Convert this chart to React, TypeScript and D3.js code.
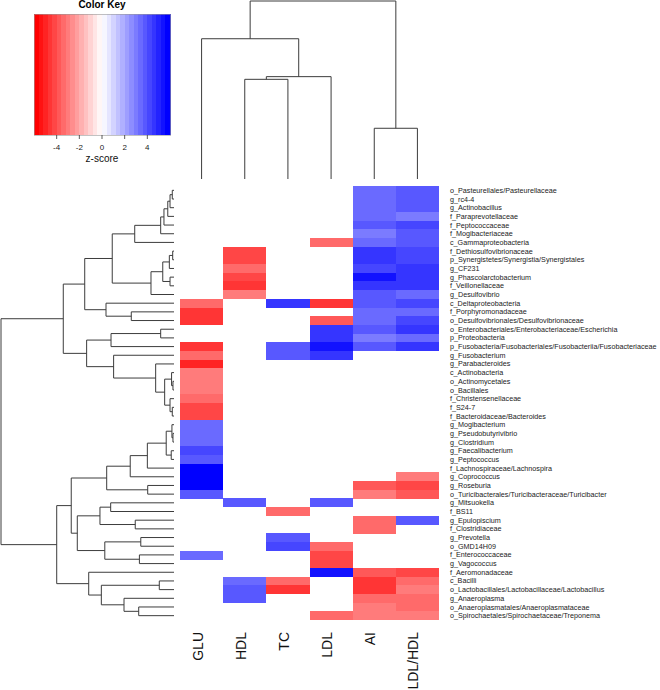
import React from 'react';
import * as d3 from 'd3';

const rowLabels = [
  'o_Pasteurellales/Pasteurellaceae', 'g_rc4-4', 'g_Actinobacillus', 'f_Paraprevotellaceae',
  'f_Peptococcaceae', 'f_Mogibacteriaceae', 'c_Gammaproteobacteria', 'f_Dethiosulfovibrionaceae',
  'p_Synergistetes/Synergistia/Synergistales', 'g_CF231', 'g_Phascolarctobacterium', 'f_Veillonellaceae',
  'g_Desulfovibrio', 'c_Deltaproteobacteria', 'f_Porphyromonadaceae', 'o_Desulfovibrionales/Desulfovibrionaceae',
  'o_Enterobacteriales/Enterobacteriaceae/Escherichia', 'p_Proteobacteria',
  'p_Fusobacteria/Fusobacteriales/Fusobacteriia/Fusobacteriaceae', 'g_Fusobacterium', 'g_Parabacteroides',
  'c_Actinobacteria', 'o_Actinomycetales', 'o_Bacillales', 'f_Christensenellaceae', 'f_S24-7',
  'f_Bacteroidaceae/Bacteroides', 'g_Mogibacterium', 'g_Pseudobutyrivibrio', 'g_Clostridium',
  'g_Faecalibacterium', 'g_Peptococcus', 'f_Lachnospiraceae/Lachnospira', 'g_Coprococcus', 'g_Roseburia',
  'o_Turicibacterales/Turicibacteraceae/Turicibacter', 'g_Mitsuokella', 'f_BS11', 'g_Epulopiscium',
  'f_Clostridiaceae', 'g_Prevotella', 'o_GMD14H09', 'f_Enterococcaceae', 'g_Vagococcus', 'f_Aeromonadaceae',
  'c_Bacilli', 'o_Lactobacillales/Lactobacillaceae/Lactobacillus', 'g_Anaeroplasma',
  'o_Anaeroplasmatales/Anaeroplasmataceae', 'o_Spirochaetales/Spirochaetaceae/Treponema',
];

const colLabels = ['GLU', 'HDL', 'TC', 'LDL', 'AI', 'LDL/HDL'];

const _ = null;
// z-scores per column, one per row (null = not significant / blank)
const gluZ = [_, _, _, _, _, _, _, _, _, _, _, _, _, -3.6, -4.8, -4.8, _, _, -4.8, -3.6,
  -5.2, -3.2, -3.2, -3.2, -3.6, -4.1, -4.1, 3.2, 3.2, 3.2, 4.0, 3.6, 6, 6, 6, 3.6, _, _, _, _,
  _, _, 3.2, _, _, _, _, _, _, _];
const hdlZ = [_, _, _, _, _, _, _, -4.1, -4.1, -3.6, -4.4, -4.8, -3.2, _, _, _, _, _, _, _,
  _, _, _, _, _, _, _, _, _, _, _, _, _, _, _, _, 3.6, _, _, _,
  _, _, _, _, _, 3.2, 3.6, 3.6, _, _];
const tcZ = [_, _, _, _, _, _, _, _, _, _, _, _, _, 4.4, _, _, _, _, 3.6, 3.6,
  _, _, _, _, _, _, _, _, _, _, _, _, _, _, _, _, _, -3.6, _, _,
  3.6, 4.2, _, _, _, -3.6, -4.8, _, _, _];
const ldlZ = [_, _, _, _, _, _, -3.6, _, _, _, _, _, _, -4.8, _, -3.7, 4.4, 4.4, 5.4, 4.4,
  _, _, _, _, _, _, _, _, _, _, _, _, _, _, _, _, 3.6, _, _, _,
  _, -3.4, -4.4, -4.4, 5.2, _, _, _, _, -3.6];
const aiZ = [3.5, 3.5, 3.5, 3.5, 3.9, 2.8, 3.2, 4.6, 4.6, 4.3, 5.2, 4.7, 3.6, 3.6, 3.2, 3.2, 3.6, 2.8, 3.9, _,
  _, _, _, _, _, _, _, _, _, _, _, _, _, _, -4.0, -3.2, _, _, -3.6, -3.6,
  _, _, _, _, -4.0, -4.8, -4.8, -3.6, -3.2, -3.0];
const ldlHdlZ = [3.6, 3.6, 3.6, 3.1, 4.0, 3.7, 3.7, 4.1, 4.1, 4.4, 4.4, 4.4, 3.2, 4.0, 3.2, 4.1, 4.4, 3.2, 4.4, _,
  _, _, _, _, _, _, _, _, _, _, _, _, _, -3.2, -4.4, -3.7, _, _, 3.6, _,
  _, _, _, _, -4.4, -3.4, -3.0, -3.6, -3.6, -3.0];

const keyTicks = [-4, -2, 0, 2, 4];

// Dendrograms: node = [left, right, height]; a leaf is the row/column index
const rowTree: any = [
  [
    [
      [
        [[[[[[0, 1, 0.1], 2, 0.23], 3, 0.36], 4, 0.58], 5, 0.77], 6, 2.27],
        [[[[7, 8, 0.075], 9, 0.27], [10, 11, 0.23], 0.65], 12, 1.33],
        3.57,
      ],
      [13, [14, 15, 2.47], 3.93],
      5.16,
    ],
    [
      [[16, 17, 0.77], 18, 3.64],
      [19, [20, [[21, [22, 23, 0.06], 0.14], [24, [25, 26, 0.1], 0.23], 0.54], 1.06], 3.49],
      5.05,
    ],
    6.4,
  ],
  [
    [
      [[[[[27, [28, 29, 0.06], 0.12], [30, 31, 0.16], 0.45], 32, 1.54], 33, 2.53], [34, 35, 1.52], 3.89],
      [[[36, 37, 3.66], [38, 39, 2.24], 4.28], [[40, 41, 1.92], [42, 43, 2.0], 4.0], 5.59],
      5.94,
    ],
    [44, [[45, 46, 0.85], [47, [48, 49, 2.04], 2.89], 4.2], 4.93],
    6.78,
  ],
  10,
];
const colTree: any = [[0, [[1, 2, 0.56], 3, 0.575], 0.788], [4, 5, 0.285], 1.0];

// ---- layout ----
const W = 660, H = 690;
const heatLeft = 180, heatRight = 439, heatTop = 186, heatBottom = 620;
const labelX = 450;

function layoutTree(node: any, leafPos: (i: number) => number, segs: any[]): { pos: number; h: number } {
  if (typeof node === 'number') return { pos: leafPos(node), h: 0 };
  const l = layoutTree(node[0], leafPos, segs);
  const r = layoutTree(node[1], leafPos, segs);
  const h = node[2];
  segs.push({ a: l, b: r, h });
  return { pos: (l.pos + r.pos) / 2, h };
}

export default function App() {
  const columns = [gluZ, hdlZ, tcZ, ldlZ, aiZ, ldlHdlZ];
  const x = d3.scaleBand<number>().domain(d3.range(colLabels.length)).range([heatLeft, heatRight]);
  const y = d3.scaleBand<number>().domain(d3.range(rowLabels.length)).range([heatTop, heatBottom]);

  const nBands = 30;
  const bandColors = d3.range(nBands).map((k) => {
    const t = k / (nBands - 1);
    return t < 0.5
      ? d3.interpolateRgb('#ff0000', '#ffffff')(t / 0.5)
      : d3.interpolateRgb('#ffffff', '#0000ff')((t - 0.5) / 0.5);
  });
  const color = d3.scaleQuantize<string>().domain([-6, 6]).range(bandColors);

  // row dendrogram
  const rowH = d3.scaleLinear().domain([0, 10]).range([174, 1]);
  const rowSegs: any[] = [];
  layoutTree(rowTree, (i) => (y(i) as number) + y.bandwidth() / 2, rowSegs);
  const rowPath = rowSegs
    .map((s) => {
      const xh = rowH(s.h);
      return `M${rowH(s.a.h)},${s.a.pos}H${xh}V${s.b.pos}H${rowH(s.b.h)}`;
    })
    .join('');

  // column dendrogram
  const colH = d3.scaleLinear().domain([0, 1]).range([179, 1]);
  const colSegs: any[] = [];
  layoutTree(colTree, (i) => (x(i) as number) + x.bandwidth() / 2, colSegs);
  const colPath = colSegs
    .map((s) => {
      const yh = colH(s.h);
      return `M${s.a.pos},${colH(s.a.h)}V${yh}H${s.b.pos}V${colH(s.b.h)}`;
    })
    .join('');

  // colour key
  const keyX = d3.scaleLinear().domain([-6, 6]).range([34, 170]);
  const keyTop = 14, keyBottom = 135;
  const bandW = 12 / nBands;

  return (
    <svg width={W} height={H} style={{ position: 'absolute', left: 0, top: 0, background: '#fff' }}
      fontFamily="'Liberation Sans', Arial, Helvetica, sans-serif">
      <rect x={0} y={0} width={W} height={H} fill="#fff" />
      {/* colour key */}
      <text x={102} y={8} textAnchor="middle" fontWeight="bold" fontSize={10} fill="#000">Color Key</text>
      <g shapeRendering="crispEdges">
        {bandColors.map((c, k) => (
          <rect key={k} x={keyX(-6 + k * bandW)} y={keyTop}
            width={keyX(-6 + (k + 1) * bandW) - keyX(-6 + k * bandW) + 0.5}
            height={keyBottom - keyTop} fill={c} />
        ))}
        <rect x={keyX(-6)} y={keyTop} width={keyX(6) - keyX(-6)} height={keyBottom - keyTop}
          fill="none" stroke="#999" strokeWidth={0.6} />
      </g>
      {keyTicks.map((t) => (
        <g key={t}>
          <line x1={keyX(t)} x2={keyX(t)} y1={keyBottom} y2={keyBottom + 4} stroke="#333" strokeWidth={0.8} />
          <text x={keyX(t)} y={keyBottom + 15} textAnchor="middle" fontSize={8} fill="#222">{t}</text>
        </g>
      ))}
      <text x={102} y={162} textAnchor="middle" fontSize={10} fill="#111">z-score</text>

      {/* dendrograms */}
      <path d={rowPath} fill="none" stroke="#3c3c3c" strokeWidth={1} />
      <path d={colPath} fill="none" stroke="#3c3c3c" strokeWidth={1} />

      {/* heatmap cells */}
      <g shapeRendering="crispEdges">
        {columns.map((vals, c) =>
          vals.map((v, r) =>
            v === null ? null : (
              <rect key={`${c}-${r}`} x={x(c)} y={y(r)} width={x.bandwidth()} height={y.bandwidth() + 0.3}
                fill={color(v as number)} />
            )
          )
        )}
      </g>

      {/* row labels */}
      {rowLabels.map((lab, r) => (
        <text key={lab} x={labelX} y={(y(r) as number) + y.bandwidth() / 2} dy="0.35em" fontSize={7.2} fill="#222">
          {lab}
        </text>
      ))}

      {/* column labels */}
      {colLabels.map((lab, c) => {
        const cx = (x(c) as number) + x.bandwidth() / 2 + 1;
        return (
          <text key={lab} transform={`translate(${cx},632) rotate(-90)`} textAnchor="end" fontSize={14} fill="#111">
            {lab}
          </text>
        );
      })}
    </svg>
  );
}
